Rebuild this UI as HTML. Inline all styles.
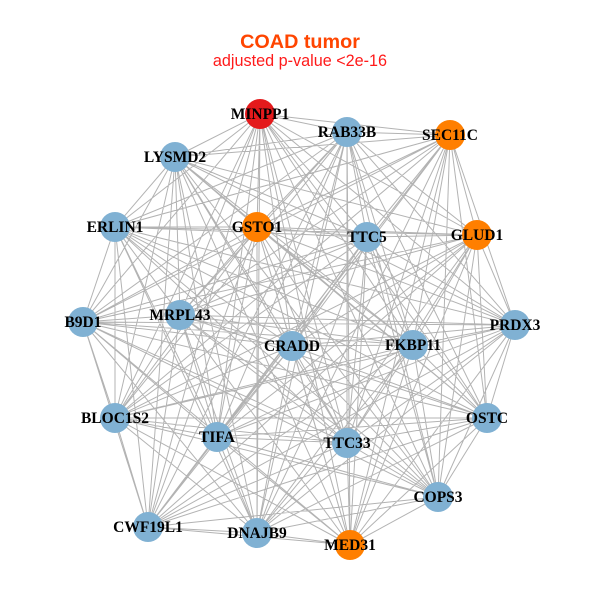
<!DOCTYPE html>
<html><head><meta charset="utf-8"><style>
html,body{margin:0;padding:0;background:#fff;}
svg{display:block;}
.t{font-family:"Liberation Serif",serif;font-weight:bold;font-size:15.5px;fill:#000;text-anchor:middle;}
</style></head><body>
<svg width="600" height="600" viewBox="0 0 600 600" xmlns="http://www.w3.org/2000/svg">
<rect width="600" height="600" fill="#fff"/>
<text x="300" y="48" font-family="Liberation Sans, sans-serif" font-weight="bold" font-size="19.8" fill="#ff4500" text-anchor="middle">COAD tumor</text>
<text x="300" y="66" font-family="Liberation Sans, sans-serif" font-size="16.2" fill="#ff1a1a" text-anchor="middle">adjusted p-value &lt;2e-16</text>
<path fill="none" stroke="#b3b3b3" stroke-width="1" d="
M260 114L347 132M260 114L450 135M260 114L175 157M260 114L115 227M260 114L257 227M260 114L367 237M260 114L477 235M260 114L83 322M260 114L180 315M260 114L292 346M260 114L413 345M260 114L515 325M260 114L115 418M260 114L217 437M260 114L347 443M260 114L487 418M260 114L438 497M260 114L148 527M260 114L257 533M260 114L350 545
M347 132L450 135M347 132L175 157M347 132L115 227M347 132L257 227M347 132L367 237M347 132L477 235M347 132L83 322M347 132L180 315M347 132L292 346M347 132L413 345M347 132L515 325M347 132L115 418M347 132L217 437M347 132L347 443M347 132L487 418M347 132L438 497M347 132L148 527M347 132L257 533M347 132L350 545
M450 135L175 157M450 135L115 227M450 135L257 227M450 135L367 237M450 135L477 235M450 135L83 322M450 135L180 315M450 135L292 346M450 135L413 345M450 135L515 325M450 135L115 418M450 135L217 437M450 135L347 443M450 135L487 418M450 135L438 497M450 135L148 527M450 135L257 533M450 135L350 545
M175 157L115 227M175 157L257 227M175 157L367 237M175 157L477 235M175 157L83 322M175 157L180 315M175 157L292 346M175 157L413 345M175 157L515 325M175 157L115 418M175 157L217 437M175 157L347 443M175 157L487 418M175 157L438 497M175 157L148 527M175 157L257 533M175 157L350 545
M115 227L257 227M115 227L367 237M115 227L477 235M115 227L83 322M115 227L180 315M115 227L292 346M115 227L413 345M115 227L515 325M115 227L115 418M115 227L217 437M115 227L347 443M115 227L487 418M115 227L438 497M115 227L148 527M115 227L257 533M115 227L350 545
M257 227L367 237M257 227L477 235M257 227L83 322M257 227L180 315M257 227L292 346M257 227L413 345M257 227L515 325M257 227L115 418M257 227L217 437M257 227L347 443M257 227L487 418M257 227L438 497M257 227L148 527M257 227L257 533M257 227L350 545
M367 237L477 235M367 237L83 322M367 237L180 315M367 237L292 346M367 237L413 345M367 237L515 325M367 237L115 418M367 237L217 437M367 237L347 443M367 237L487 418M367 237L438 497M367 237L148 527M367 237L257 533M367 237L350 545
M477 235L83 322M477 235L180 315M477 235L292 346M477 235L413 345M477 235L515 325M477 235L115 418M477 235L217 437M477 235L347 443M477 235L487 418M477 235L438 497M477 235L148 527M477 235L257 533M477 235L350 545
M83 322L180 315M83 322L292 346M83 322L413 345M83 322L515 325M83 322L115 418M83 322L217 437M83 322L347 443M83 322L487 418M83 322L438 497M83 322L148 527M83 322L257 533M83 322L350 545
M180 315L292 346M180 315L413 345M180 315L515 325M180 315L115 418M180 315L217 437M180 315L347 443M180 315L487 418M180 315L438 497M180 315L148 527M180 315L257 533M180 315L350 545
M292 346L413 345M292 346L515 325M292 346L115 418M292 346L217 437M292 346L347 443M292 346L487 418M292 346L438 497M292 346L148 527M292 346L257 533M292 346L350 545
M413 345L515 325M413 345L115 418M413 345L217 437M413 345L347 443M413 345L487 418M413 345L438 497M413 345L148 527M413 345L257 533M413 345L350 545
M515 325L115 418M515 325L217 437M515 325L347 443M515 325L487 418M515 325L438 497M515 325L148 527M515 325L257 533M515 325L350 545
M115 418L217 437M115 418L347 443M115 418L487 418M115 418L438 497M115 418L148 527M115 418L257 533M115 418L350 545
M217 437L347 443M217 437L487 418M217 437L438 497M217 437L148 527M217 437L257 533M217 437L350 545
M347 443L487 418M347 443L438 497M347 443L148 527M347 443L257 533M347 443L350 545
M487 418L438 497M487 418L148 527M487 418L257 533M487 418L350 545
M438 497L148 527M438 497L257 533M438 497L350 545
M148 527L257 533M148 527L350 545
M257 533L350 545"/>
<g>
<circle cx="260" cy="114" r="15" fill="#e41a1c"/>
<circle cx="347" cy="132" r="15" fill="#80b1d3"/>
<circle cx="450" cy="135" r="15" fill="#ff7f00"/>
<circle cx="175" cy="157" r="15" fill="#80b1d3"/>
<circle cx="115" cy="227" r="15" fill="#80b1d3"/>
<circle cx="257" cy="227" r="15" fill="#ff7f00"/>
<circle cx="367" cy="237" r="15" fill="#80b1d3"/>
<circle cx="477" cy="235" r="15" fill="#ff7f00"/>
<circle cx="83" cy="322" r="15" fill="#80b1d3"/>
<circle cx="180" cy="315" r="15" fill="#80b1d3"/>
<circle cx="292" cy="346" r="15" fill="#80b1d3"/>
<circle cx="413" cy="345" r="15" fill="#80b1d3"/>
<circle cx="515" cy="325" r="15" fill="#80b1d3"/>
<circle cx="115" cy="418" r="15" fill="#80b1d3"/>
<circle cx="217" cy="437" r="15" fill="#80b1d3"/>
<circle cx="347" cy="443" r="15" fill="#80b1d3"/>
<circle cx="487" cy="418" r="15" fill="#80b1d3"/>
<circle cx="438" cy="497" r="15" fill="#80b1d3"/>
<circle cx="148" cy="527" r="15" fill="#80b1d3"/>
<circle cx="257" cy="533" r="15" fill="#80b1d3"/>
<circle cx="350" cy="545" r="15" fill="#ff7f00"/>
</g>
<g class="t">
<text class="t" x="260" y="119">MINPP1</text>
<text class="t" x="347" y="137">RAB33B</text>
<text class="t" x="450" y="140">SEC11C</text>
<text class="t" x="175" y="162">LYSMD2</text>
<text class="t" x="115" y="232">ERLIN1</text>
<text class="t" x="257" y="232">GSTO1</text>
<text class="t" x="367" y="242">TTC5</text>
<text class="t" x="477" y="240">GLUD1</text>
<text class="t" x="83" y="327">B9D1</text>
<text class="t" x="180" y="320">MRPL43</text>
<text class="t" x="292" y="351">CRADD</text>
<text class="t" x="413" y="350">FKBP11</text>
<text class="t" x="515" y="330">PRDX3</text>
<text class="t" x="115" y="423">BLOC1S2</text>
<text class="t" x="217" y="442">TIFA</text>
<text class="t" x="347" y="448">TTC33</text>
<text class="t" x="487" y="423">OSTC</text>
<text class="t" x="438" y="502">COPS3</text>
<text class="t" x="148" y="532">CWF19L1</text>
<text class="t" x="257" y="538">DNAJB9</text>
<text class="t" x="350" y="550">MED31</text>
</g>
</svg>
</body></html>
